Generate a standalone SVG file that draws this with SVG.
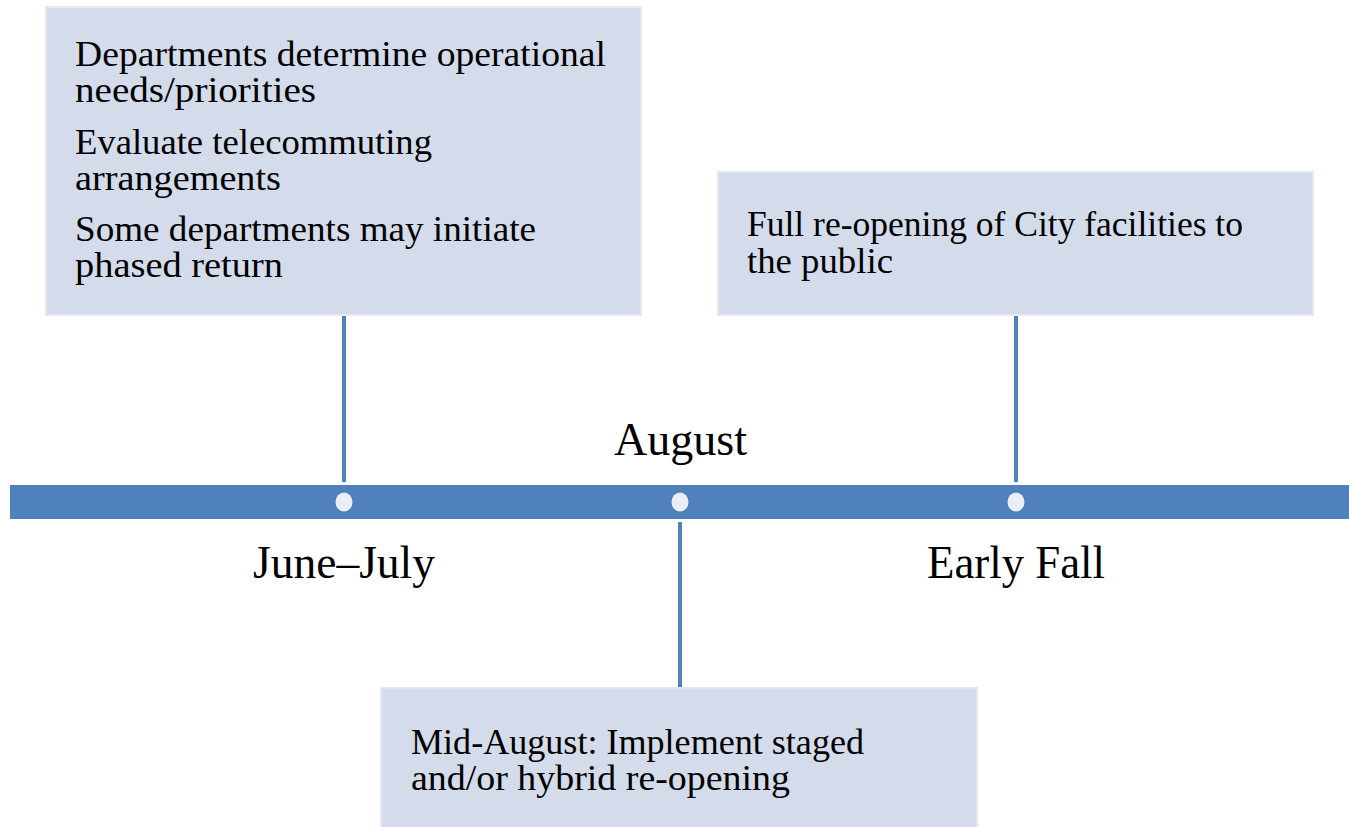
<svg xmlns="http://www.w3.org/2000/svg" width="1349" height="827" viewBox="0 0 1349 827">
<style>
.box{fill:#D4DBEA;stroke:#E3E7F0;stroke-width:2}
.t{font-family:"Liberation Serif","DejaVu Serif",serif;font-size:35px;fill:#000}
.lab{font-family:"Liberation Serif","DejaVu Serif",serif;font-size:46px;fill:#000}
.conn{stroke:#4F81BD;stroke-width:4;fill:none}
.dot{fill:#E9EDF6}
</style>
<rect width="1349" height="827" fill="#FFFFFF"/>
<g id="timeline">
<rect x="10" y="485" width="1339" height="34" fill="#4F81BD"/>
<ellipse class="dot" cx="344" cy="502" rx="8.5" ry="9.5"/>
<ellipse class="dot" cx="680" cy="502" rx="8.5" ry="9.5"/>
<ellipse class="dot" cx="1016" cy="502" rx="8.5" ry="9.5"/>
</g>
<g id="connectors">
<line class="conn" x1="344" y1="315" x2="344" y2="482"/>
<line class="conn" x1="1016" y1="315" x2="1016" y2="482"/>
<line class="conn" x1="680" y1="522" x2="680" y2="690"/>
</g>
<g id="node-june-july">
<rect class="box" x="46" y="7" width="595" height="308"/>
<text class="t" x="75" y="66" textLength="531" lengthAdjust="spacingAndGlyphs">Departments determine operational</text>
<text class="t" x="75" y="102" textLength="241" lengthAdjust="spacingAndGlyphs">needs/priorities</text>
<text class="t" x="75" y="154" textLength="357" lengthAdjust="spacingAndGlyphs">Evaluate telecommuting</text>
<text class="t" x="75" y="190" textLength="206" lengthAdjust="spacingAndGlyphs">arrangements</text>
<text class="t" x="75" y="241" textLength="461" lengthAdjust="spacingAndGlyphs">Some departments may initiate</text>
<text class="t" x="75" y="277" textLength="208" lengthAdjust="spacingAndGlyphs">phased return</text>
</g>
<g id="node-early-fall">
<rect class="box" x="718" y="172" width="595" height="143"/>
<text class="t" x="747" y="236" textLength="496" lengthAdjust="spacingAndGlyphs">Full re-opening of City facilities to</text>
<text class="t" x="747" y="273" textLength="146" lengthAdjust="spacingAndGlyphs">the public</text>
</g>
<g id="node-august">
<rect class="box" x="381" y="688" width="596" height="145"/>
<text class="t" x="411" y="754" textLength="453" lengthAdjust="spacingAndGlyphs">Mid-August: Implement staged</text>
<text class="t" x="411" y="790" textLength="379" lengthAdjust="spacingAndGlyphs">and/or hybrid re-opening</text>
</g>
<g id="labels">
<text class="lab" x="614" y="455" textLength="133" lengthAdjust="spacingAndGlyphs">August</text>
<text class="lab" x="253" y="578" textLength="182" lengthAdjust="spacingAndGlyphs">June–July</text>
<text class="lab" x="927" y="578" textLength="178" lengthAdjust="spacingAndGlyphs">Early Fall</text>
</g>
</svg>
